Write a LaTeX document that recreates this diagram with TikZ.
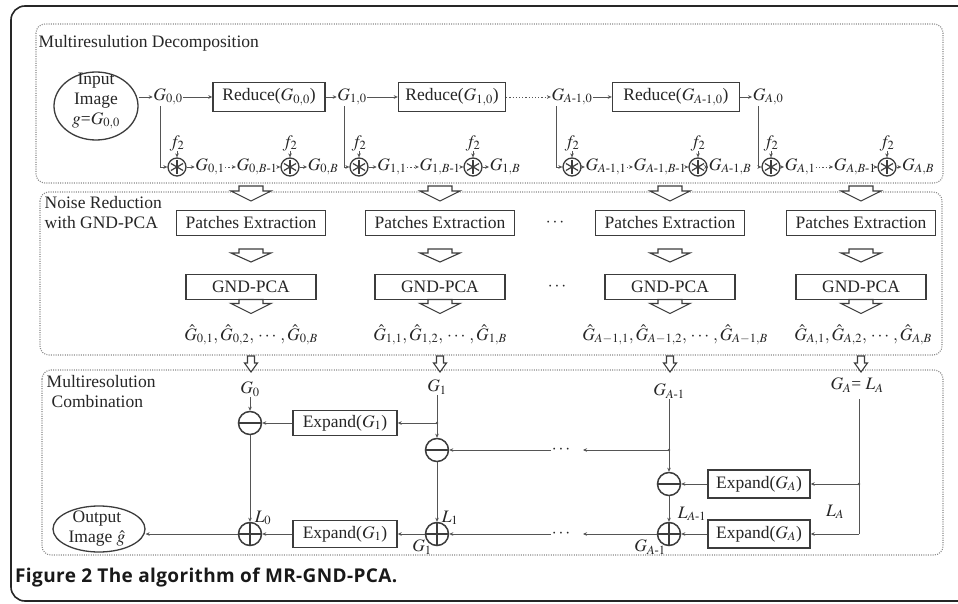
\documentclass[tikz,border=0pt]{standalone}
\usepackage{amsmath}
\usepackage{mathptmx}
\usepackage{fontspec}
\setmainfont{Liberation Serif}
\newfontfamily\capfont{Open Sans}[LetterSpace=2]
\DeclareMathSizes{17.5}{17.5}{12.5}{9}
\usetikzlibrary{arrows.meta,shapes.geometric,calc}
\definecolor{lc}{HTML}{555555}
\definecolor{bc}{HTML}{3C3C3C}
\definecolor{tc}{HTML}{262626}
\definecolor{sc}{HTML}{8A8A8A}
\newcommand{\hollowarrow}[6]{% x, ytop, stem half width, head half width, stem height, total height
  \draw[hol,shift={(#1,#2)}] (-#3,0) -- (#3,0) -- (#3,#5) -- (#4,#5) -- (0,#6) -- (-#4,#5) -- (-#3,#5) -- cycle;}
\tikzset{
  ln/.style={draw=lc, line width=0.9pt},
  arr/.style={ln, -{Stealth[length=4pt,width=3.6pt]}},
  darr/.style={arr, dash pattern=on 1.2pt off 2pt},
  box/.style={draw=bc, line width=1.4pt, inner sep=0pt, minimum height=29pt, text=tc},
  lab/.style={inner sep=0.5pt, text=tc},
  sect/.style={draw=sc, line width=1.1pt, dash pattern=on 1pt off 1.3pt, rounded corners=9pt},
  hol/.style={draw=bc, fill=white, line width=1.1pt, line join=miter},
  conv/.style={circle, draw=bc, line width=1.3pt, minimum size=18pt, inner sep=0pt,
    path picture={\foreach \a in {90,30,150}{\draw[bc, line width=1.2pt, shift={(path picture bounding box.center)}] (\a:7pt) -- (\a+180:7pt);}}},
  minus/.style={circle, draw=bc, line width=1.5pt, minimum size=23pt, inner sep=0pt,
    path picture={\draw[bc, line width=1.5pt] (path picture bounding box.west) -- (path picture bounding box.east);}},
  plus/.style={circle, draw=bc, line width=1.5pt, minimum size=23pt, inner sep=0pt,
    path picture={\draw[bc, line width=1.5pt] (path picture bounding box.west) -- (path picture bounding box.east) (path picture bounding box.north) -- (path picture bounding box.south);}},
}
\begin{document}
\begin{tikzpicture}[x=1pt, y=-1pt, font=\fontsize{17.5}{20}\selectfont]
\useasboundingbox (0,0) rectangle (958,604);
\clip (0,0) rectangle (958,604);
\fill[white] (0,0) rectangle (958,604);
% outer frame
\draw[draw=black!85, line width=1.6pt, rounded corners=14pt] (11,6) rectangle (1000,601);
% section boxes
\draw[sect] (36,24) rectangle (943,183);
\draw[sect] (40,192) rectangle (942,355);
\draw[sect] (42,370) rectangle (943,555);
\node[lab, anchor=west] (t1) at (38,43) {Multiresulution Decomposition};
\node[lab, anchor=north west, align=left] (t2) at (44,196) {Noise Reduction\\with GND-PCA};
\node[lab, anchor=north west, align=left] (t3) at (46,375) {Multiresolution\\\hspace{5pt}Combination};

% ---------- decomposition ----------
\node[ellipse, draw=bc, line width=1.3pt, minimum width=84pt, minimum height=68pt, inner sep=0pt] (in) at (96,106) {};
\node[lab, align=center] (intxt) at (96,101) {Input\\Image\\$g$=$G_{0,0}$};
\node[lab] (g00) at (168,97) {$G_{0,0}$};
\draw[arr] (in.east |- g00) -- (g00.west);
\node[box, minimum width=112pt] (r0) at (269,97) {Reduce($G_{0,0}$)};
\draw[arr] (g00.east) -- (r0.west);
\node[lab] (g10) at (352,97) {$G_{1,0}$};
\draw[arr] (r0.east) -- (g10.west);
\node[box, minimum width=107pt] (r1) at (452,97) {Reduce($G_{1,0}$)};
\draw[arr] (g10.east) -- (r1.west);
\node[lab] (ga10) at (572,97) {$G_{A\text{-}1,0}$};
\draw[darr] (r1.east) -- (ga10.west);
\node[box, minimum width=127pt] (r2) at (676,97) {Reduce($G_{A\text{-}1,0}$)};
\draw[arr] (ga10.east) -- (r2.west);
\node[lab] (ga0) at (768,97) {$G_{A,0}$};
\draw[arr] (r2.east) -- (ga0.west);

% group 0
\coordinate (v0) at (160,167);
\node[conv] (c01) at (177,167) {};
\node[lab] (f01) at (177,143) {$f_2$};
\draw[arr] (f01) -- (c01);
\draw[arr] (g00.south -| v0) -- (v0) -- (c01.west);
\node[lab] (g01) at (210,167) {$G_{0,1}$};
\draw[arr] (c01) -- (g01);
\node[lab] (g0b1) at (257,167) {$G_{0,B\text{-}1}$};
\draw[darr] (g01) -- (g0b1);
\node[conv] (c02) at (290,167) {};
\node[lab] (f02) at (290,143) {$f_2$};
\draw[arr] (f02) -- (c02);
\draw[arr] (g0b1) -- (c02);
\node[lab] (g0b) at (323,167) {$G_{0,B}$};
\draw[arr] (c02) -- (g0b);

% group 1
\coordinate (v1) at (344,167);
\node[conv] (c11) at (359,167) {};
\node[lab] (f11) at (359,143) {$f_2$};
\draw[arr] (f11) -- (c11);
\draw[arr] (g10.south -| v1) -- (v1) -- (c11.west);
\node[lab] (g11) at (392,167) {$G_{1,1}$};
\draw[arr] (c11) -- (g11);
\node[lab] (g1b1) at (440,167) {$G_{1,B\text{-}1}$};
\draw[darr] (g11) -- (g1b1);
\node[conv] (c12) at (473,167) {};
\node[lab] (f12) at (473,143) {$f_2$};
\draw[arr] (f12) -- (c12);
\draw[arr] (g1b1) -- (c12);
\node[lab] (g1b) at (505,167) {$G_{1,B}$};
\draw[arr] (c12) -- (g1b);

% group A-1
\coordinate (v2) at (556,167);
\node[conv] (c21) at (572,167) {};
\node[lab] (f21) at (572,143) {$f_2$};
\draw[arr] (f21) -- (c21);
\draw[arr] (ga10.south -| v2) -- (v2) -- (c21.west);
\node[lab] (g21) at (606,167) {$G_{A\text{-}1,1}$};
\draw[arr] (c21) -- (g21);
\node[lab] (g2b1) at (660,167) {$G_{A\text{-}1,B\text{-}1}$};
\draw[darr] (g21) -- (g2b1);
\node[conv] (c22) at (698,167) {};
\node[lab] (f22) at (698,143) {$f_2$};
\draw[arr] (f22) -- (c22);
\draw[arr] (g2b1) -- (c22);
\node[lab] (g2b) at (730,167) {$G_{A\text{-}1,B}$};
\draw[arr] (c22) -- (g2b);

% group A
\coordinate (v3) at (758,167);
\node[conv] (c31) at (771,167) {};
\node[lab] (f31) at (771,143) {$f_2$};
\draw[arr] (f31) -- (c31);
\draw[arr] (ga0.south -| v3) -- (v3) -- (c31.west);
\node[lab] (g31) at (800,167) {$G_{A,1}$};
\draw[arr] (c31) -- (g31);
\node[lab] (g3b1) at (855,167) {$G_{A,B\text{-}1}$};
\draw[darr] (g31) -- (g3b1);
\node[conv] (c32) at (887,167) {};
\node[lab] (f32) at (887,143) {$f_2$};
\draw[arr] (f32) -- (c32);
\draw[arr] (g3b1) -- (c32);
\node[lab] (g3b) at (918,167) {$G_{A,B}$};
\draw[arr] (c32) -- (g3b);

% ---------- noise reduction ----------
\foreach \x/\n in {251/0,440/1,670/2,861/3}{
  \hollowarrow{\x}{186}{12}{20}{5}{15}
  \node[box, minimum width=149pt, minimum height=25pt] (pe\n) at (\x,223) {Patches Extraction};
  \hollowarrow{\x}{249}{12}{20}{4}{13}
  \node[box, minimum width=130pt, minimum height=25pt] (gp\n) at (\x,287) {GND-PCA};
  \hollowarrow{\x}{299.5}{12}{20}{4}{14}
  \hollowarrow{\x}{356}{3.5}{6.5}{7}{16}
}
\node[lab] (dd1) at (556,223) {$\cdots$};
\node[lab] (dd2) at (558,287) {$\cdots$};
\node[lab] (h0) at (251,335) {$\hat{G}_{0,1},\hat{G}_{0,2},\,\cdots\,,\hat{G}_{0,B}$};
\node[lab] (h1) at (440,335) {$\hat{G}_{1,1},\hat{G}_{1,2},\,\cdots\,,\hat{G}_{1,B}$};
\node[lab] (h2) at (675,335) {$\hat{G}_{A-1,1},\hat{G}_{A-1,2},\,\cdots\,,\hat{G}_{A-1,B}$};
\node[lab] (h3) at (863,335) {$\hat{G}_{A,1},\hat{G}_{A,2},\,\cdots\,,\hat{G}_{A,B}$};

% ---------- combination ----------
\node[lab] (G0) at (250,389) {$G_0$};
\node[minus] (m0) at (250,423) {};
\draw[arr] (G0) -- (m0);
\node[box, minimum width=104pt, minimum height=25pt] (e1u) at (345,423) {Expand($G_1$)};
\draw[arr] (e1u) -- (m0);
\node[lab] (G1) at (437,387) {$G_1$};
\coordinate (j1) at (437,423);
\fill[lc] (j1) circle (1.4pt);
\draw[ln] (G1) -- (j1);
\draw[arr] (j1) -- (e1u.east);
\node[minus] (m1) at (437,450) {};
\draw[arr] (j1) -- (m1);

\node[lab] (GA1) at (669,391) {$G_{A\text{-}1}$};
\coordinate (j2) at (669,450);
\fill[lc] (j2) circle (1.4pt);
\draw[ln] (GA1) -- (j2);
\coordinate (dmr) at (583,450);
\coordinate (dml) at (551,450);
\node[lab] (dm) at (562,450) {$\cdots$};
\draw[arr] (j2) -- (dmr);
\draw[arr] (dml) -- (m1);
\node[minus] (m2) at (669,484) {};
\draw[arr] (j2) -- (m2);
\node[box, minimum width=102pt, minimum height=28pt] (eAu) at (759,484) {Expand($G_A$)};
\draw[arr] (eAu) -- (m2);

\node[lab] (GA) at (857,385) {$G_A$= $L_A$};
\coordinate (jA) at (859,484);
\coordinate (cA) at (859,534);
\fill[lc] (jA) circle (1.4pt);
\draw[ln] (859,399) -- (cA);
\draw[arr] (jA) -- (eAu.east);
\node[box, minimum width=102pt, minimum height=28pt] (eAl) at (759,534) {Expand($G_A$)};
\draw[arr] (cA) -- (eAl.east);
\node[plus] (p2) at (669,534) {};
\draw[arr] (m2) -- (p2);
\draw[arr] (eAl) -- (p2);
\node[lab] (LA1) at (692,514) {$L_{A\text{-}1}$};
\node[lab] (LA) at (835,512) {$L_A$};
\node[lab] (GA1b) at (650,547) {$G_{A\text{-}1}$};

\node[plus] (p1) at (437,534) {};
\draw[arr] (m1) -- (p1);
\coordinate (dpr) at (583,534);
\coordinate (dpl) at (551,534);
\node[lab] (dp) at (562,534) {$\cdots$};
\draw[arr] (p2) -- (dpr);
\draw[arr] (dpl) -- (p1);
\node[lab] (L1) at (450,518) {$L_1$};
\node[lab] (G1b) at (422,547) {$G_1$};
\node[box, minimum width=104pt, minimum height=27pt] (e1l) at (345,534) {Expand($G_1$)};
\draw[arr] (p1) -- (e1l);

\node[plus] (p0) at (250,534) {};
\draw[arr] (e1l) -- (p0);
\draw[arr] (m0) -- (p0);
\node[lab] (L0) at (263,518) {$L_0$};
\node[ellipse, draw=bc, line width=1.3pt, minimum width=92pt, minimum height=46pt, inner sep=0pt] (out) at (99,529) {};
\node[lab, align=center] (outt) at (97,529) {Output\\Image $\hat{g}$};
\draw[arr] (p0) -- (out.east |- p0);

% caption
\node[anchor=west, inner sep=0pt, text=black!90, font=\capfont\bfseries\fontsize{19}{22}\selectfont] (cap) at (15,578) {Figure 2 The algorithm of MR-GND-PCA.};
\end{tikzpicture}
\end{document}
